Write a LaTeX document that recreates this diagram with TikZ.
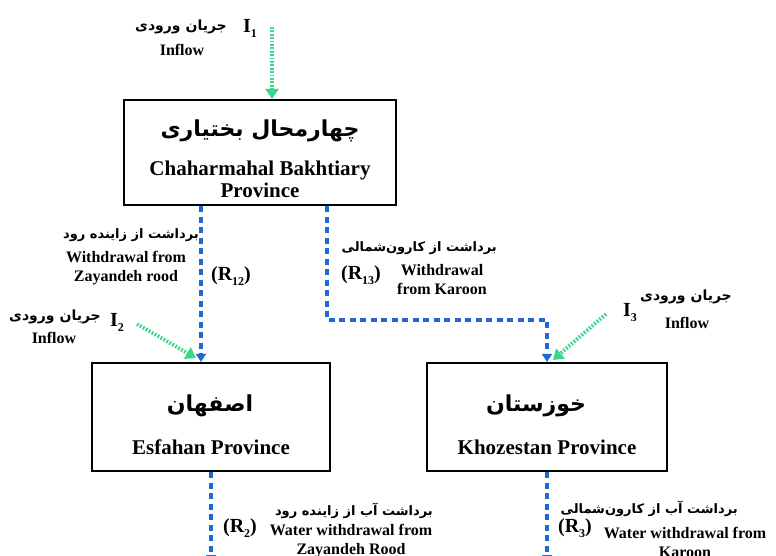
\documentclass[tikz,border=0pt]{standalone}
\usepackage{fontspec}
\setmainfont{Liberation Serif}
\newfontfamily\fa[Script=Arabic]{DejaVu Sans}
\TeXXeTstate=1
\usetikzlibrary{arrows.meta}
\definecolor{inflowgreen}{RGB}{60,215,140}
\definecolor{flowblue}{RGB}{30,105,210}
\newcommand\fsz[1]{\fontsize{#1}{#1}\selectfont}
\newcommand\faf[1]{\fa\bfseries\fsz{#1}}
\newcommand\lowsub[1]{\raisebox{-5pt}{\fsz{12}#1}}
\begin{document}
\begin{tikzpicture}[x=1pt,y=-1pt,
  province/.style={draw, line width=2.2pt, inner sep=0pt},
  entxt/.style={font=\bfseries\fontsize{21}{22}\selectfont, align=center, inner sep=0pt},
  lab/.style={font=\bfseries\fontsize{16}{19}\selectfont, align=center, inner sep=0pt},
  sym/.style={font=\bfseries\fontsize{20}{20}\selectfont, inner sep=0pt},
  fatxt/.style={inner sep=0pt},
  inflow/.style={draw=inflowgreen, line width=3.8pt, dash pattern=on 1.8pt off 1.6pt,
    -{Triangle[width=13pt,length=10pt,fill=inflowgreen]}},
  flow/.style={draw=flowblue, line width=3.6pt, dash pattern=on 6pt off 4.5pt,
    -{Triangle[width=10pt,length=8pt,fill=flowblue]}}]
\clip (0,0) rectangle (776,556);
\fill[white] (0,0) rectangle (776,556);
% boxes
\node[province, minimum width=272pt, minimum height=105pt] (C) at (260,152.5) {};
\node[fatxt] (Cfa) at (260,131) {\faf{22}\beginR چهارمحال بختیاری\endR};
\node[entxt] (Cen) at (260,179) {Chaharmahal Bakhtiary\\Province};
\node[province, minimum width=238pt, minimum height=108pt] (E) at (211,417) {};
\node[fatxt] (Efa) at (210,406) {\faf{22}\beginR اصفهان\endR};
\node[entxt] (Een) at (211,447) {Esfahan Province};
\node[province, minimum width=240pt, minimum height=108pt] (K) at (547,417) {};
\node[fatxt] (Kfa) at (536,406) {\faf{22}\beginR خوزستان\endR};
\node[entxt] (Ken) at (547,447) {Khozestan Province};
% connectors
\coordinate (i1s) at (272,27);
\draw[inflow] (i1s) -- (i1s |- C.north);
\coordinate (r12s) at (201,0);
\draw[flow] (r12s |- C.south) -- (r12s |- E.north);
\coordinate (r13s) at (327,0);
\coordinate (bend) at (547,320);
\draw[flow] (r13s |- C.south) |- (bend) -- (K.north);
\coordinate (i2s) at (137,324);
\coordinate (i2e) at (196,358);
\draw[inflow] (i2s) -- (i2e);
\coordinate (i3s) at (606,314);
\coordinate (i3e) at (553,360);
\draw[inflow] (i3s) -- (i3e);
\coordinate (bot) at (0,563);
\draw[flow] (E.south) -- (E.south |- bot);
\draw[flow] (K.south) -- (K.south |- bot);
% labels top
\node[sym] (I1) at (250,28) {I\lowsub{1}};
\node[fatxt] (I1fa) at (181,27) {\faf{14}\beginR جریان ورودی\endR};
\node[lab] (I1en) at (182,50) {Inflow};
% R12
\node[fatxt, anchor=east] (R12fa) at (199,235) {\faf{13}\beginR برداشت از زاینده رود\endR};
\node[lab] (R12en) at (126,268) {Withdrawal from\\Zayandeh rood};
\node[sym] (R12) at (231,276) {(R\lowsub{12})};
% I2
\node[sym] (I2) at (117,322) {I\lowsub{2}};
\node[fatxt] (I2fa) at (55,317) {\faf{14}\beginR جریان ورودی\endR};
\node[lab] (I2en) at (54,338) {Inflow};
% R13
\node[fatxt, anchor=east] (R13fa) at (497,248) {\faf{13}\beginR برداشت از کارون‌شمالی\endR};
\node[sym] (R13) at (361,275) {(R\lowsub{13})};
\node[lab] (R13en) at (442,280) {Withdrawal\\from Karoon};
% I3
\node[sym] (I3) at (630,313) {I\lowsub{3}};
\node[fatxt] (I3fa) at (686,297) {\faf{14}\beginR جریان ورودی\endR};
\node[lab] (I3en) at (687,323) {Inflow};
% bottom left
\node[fatxt, anchor=east] (R2fa) at (433,511) {\faf{13}\beginR برداشت آب از زاینده رود\endR};
\node[sym] (R2) at (240,528) {(R\lowsub{2})};
\node[lab] (R2en) at (351,541) {Water withdrawal from\\Zayandeh Rood};
% bottom right
\node[fatxt, anchor=east] (R3fa) at (738,509) {\faf{13}\beginR برداشت آب از کارون‌شمالی\endR};
\node[sym] (R3) at (575,528) {(R\lowsub{3})};
\node[lab] (R3en) at (685,542) {Water withdrawal from\\Karoon};
\end{tikzpicture}
\end{document}
